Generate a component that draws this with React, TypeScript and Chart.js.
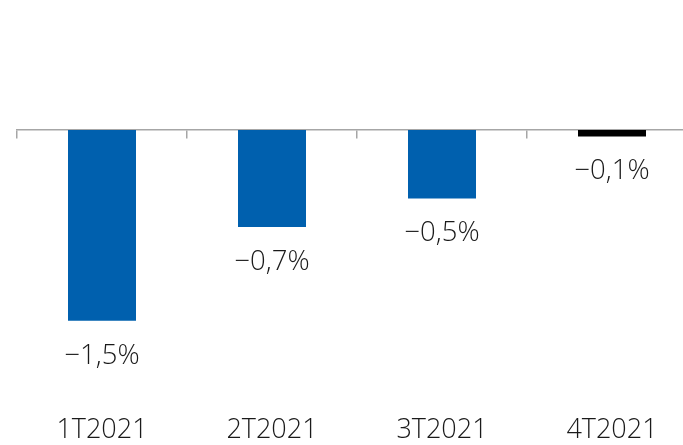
import React, { useEffect, useRef } from "react";
import { Chart, registerables } from "chart.js";

Chart.register(...registerables);

const categories = ["1T2021", "2T2021", "3T2021", "4T2021"];
const values = [-1.505, -0.765, -0.54, -0.053];
const valueLabels = ["−1,5%", "−0,7%", "−0,5%", "−0,1%"];
const barColors = ["#0060AE", "#0060AE", "#0060AE", "#000000"];

const FONT = "'Open Sans', sans-serif";

const labelPlugin = {
  id: "valueLabels",
  afterDatasetsDraw(chart: any) {
    const ctx = chart.ctx;
    const meta = chart.getDatasetMeta(0);
    ctx.save();
    ctx.font = `300 27.5px ${FONT}`;
    ctx.fillStyle = "#1a1a1a";
    ctx.textAlign = "center";
    ctx.textBaseline = "middle";
    meta.data.forEach((bar: any, i: number) => {
      ctx.fillText(valueLabels[i], bar.x, bar.y + 35);
    });
    ctx.restore();
  },
};

export default function App() {
  const ref = useRef<HTMLCanvasElement | null>(null);
  useEffect(() => {
    if (!ref.current) return;
    const chart = new Chart(ref.current, {
      type: "bar",
      data: {
        labels: categories,
        datasets: [
          {
            data: values,
            backgroundColor: barColors,
            borderWidth: 0,
            categoryPercentage: 1,
            barPercentage: 0.4,
          },
        ],
      },
      options: {
        responsive: false,
        animation: false,
        layout: { padding: { left: 17, right: 17, top: 3, bottom: 0 } },
        plugins: { legend: { display: false }, tooltip: { enabled: false } },
        scales: {
          y: {
            display: false,
            min: -2.2,
            max: 1.0,
          },
          x: {
            position: "bottom",
            grid: { display: false, drawTicks: false, tickLength: 0 },
            border: { display: false },
            afterFit: (scale: any) => {
              scale.height = 36;
            },
            ticks: {
              padding: 5,
              color: "#1a1a1a",
              font: { family: FONT, size: 27, weight: "300" as any },
            },
          },
          x2: {
            type: "category",
            labels: categories,
            position: { y: 0 } as any,
            offset: true,
            afterFit: (scale: any) => {
              scale.height = 0;
            },
            grid: {
              offset: true,
              drawOnChartArea: false,
              drawTicks: true,
              tickLength: 8,
              color: "#A6A6A6",
              lineWidth: 1.5,
            },
            border: { display: true, color: "#A6A6A6", width: 1.5 },
            ticks: { display: false },
          },
        },
      },
      plugins: [labelPlugin],
    });
    return () => chart.destroy();
  }, []);
  return (
    <div
      style={{
        position: "fixed",
        left: 0,
        top: 0,
        width: 683,
        height: 445,
        overflow: "hidden",
        background: "#ffffff",
      }}
    >
      <canvas ref={ref} width={714} height={445} style={{ display: "block" }} />
    </div>
  );
}
